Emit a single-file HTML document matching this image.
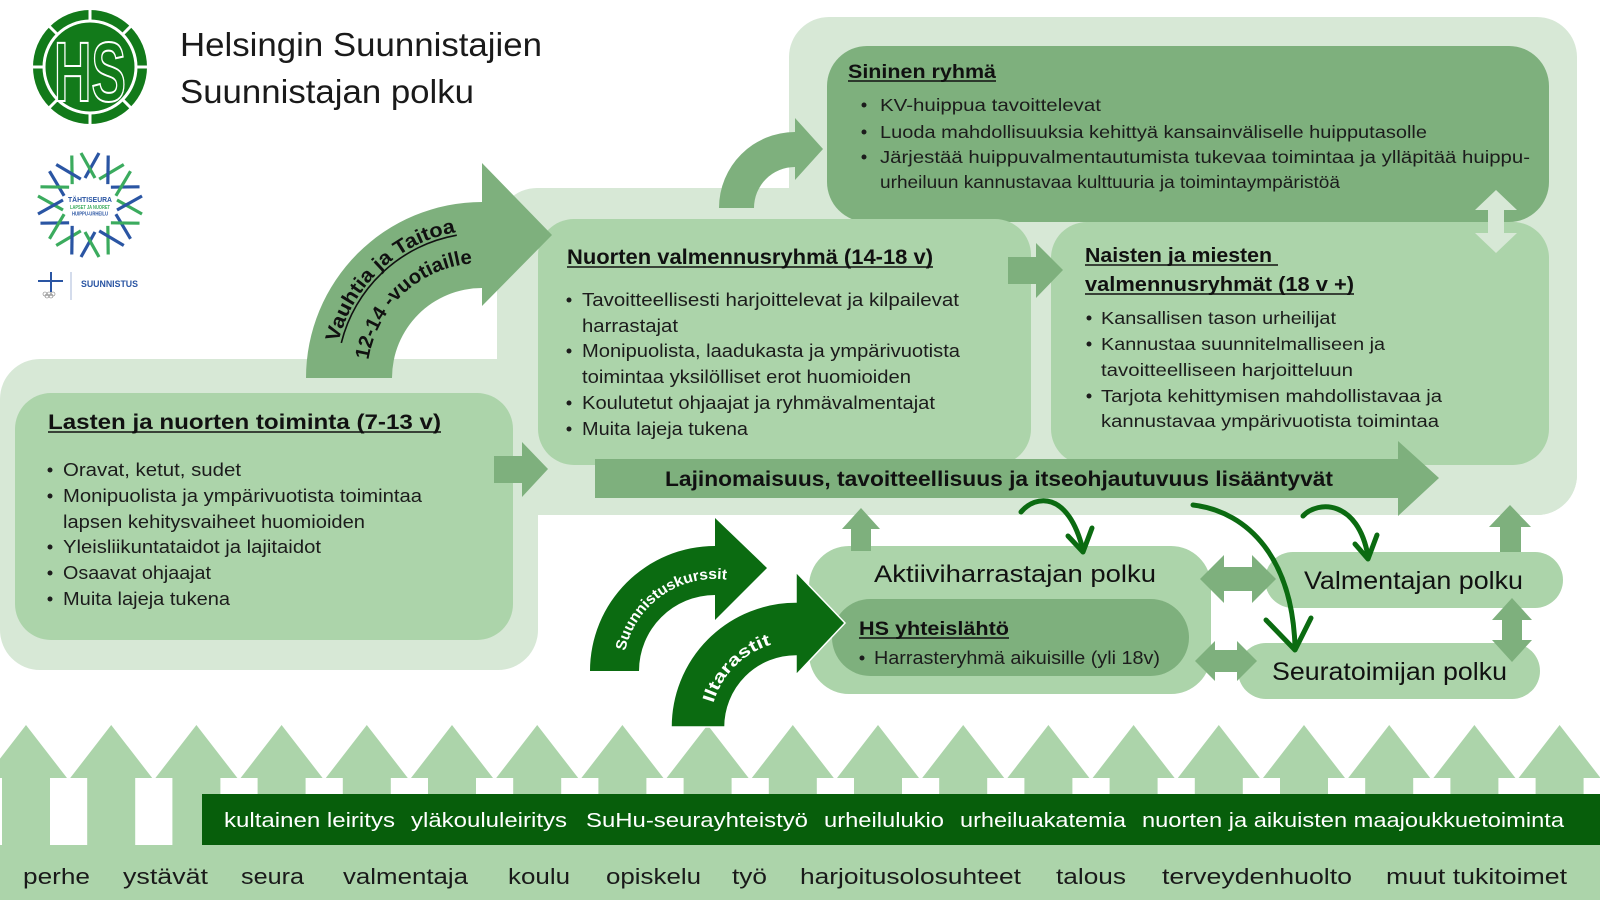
<!DOCTYPE html>
<html><head><meta charset="utf-8"><style>
html,body{margin:0;padding:0;background:#fff;}
svg{display:block;}
text{font-family:"Liberation Sans",Arial,sans-serif;}
</style></head><body>
<svg xmlns="http://www.w3.org/2000/svg" width="1600" height="900" viewBox="0 0 1600 900">
<rect width="1600" height="900" fill="#fff"/>

<!-- HS logo -->
<circle cx="90" cy="67" r="57" fill="#127a1a"/>
<g stroke="#fff" stroke-width="3">
<circle cx="90" cy="67" r="46" fill="none"/>
<line x1="90" y1="21" x2="90" y2="9"/><line x1="90" y1="113" x2="90" y2="125"/>
<line x1="44" y1="67" x2="32" y2="67"/><line x1="136" y1="67" x2="148" y2="67"/>
<line x1="57.5" y1="34.5" x2="49" y2="26"/><line x1="122.5" y1="34.5" x2="131" y2="26"/>
<line x1="57.5" y1="99.5" x2="49" y2="108"/><line x1="122.5" y1="99.5" x2="131" y2="108"/>
</g>
<text x="54" y="101" font-size="84" font-weight="bold" textLength="72" lengthAdjust="spacingAndGlyphs" fill="#127a1a" stroke="#fff" stroke-width="2">HS</text>

<!-- Title -->
<text x="180" y="56" font-size="33" fill="#1a1a1a" textLength="362" lengthAdjust="spacingAndGlyphs">Helsingin Suunnistajien</text>
<text x="180" y="103" font-size="33" fill="#1a1a1a" textLength="294" lengthAdjust="spacingAndGlyphs">Suunnistajan polku</text>

<!-- Tähtiseura logo -->
<g stroke-width="3.2">
<g transform="rotate(0 90 205)"><line x1="85" y1="178" x2="99" y2="153" stroke="#2a55a3"/><line x1="95" y1="178" x2="81" y2="153" stroke="#3bab5e"/></g>
<g transform="rotate(30 90 205)"><line x1="85" y1="178" x2="99" y2="153" stroke="#3bab5e"/><line x1="95" y1="178" x2="81" y2="153" stroke="#2a55a3"/></g>
<g transform="rotate(60 90 205)"><line x1="85" y1="178" x2="99" y2="153" stroke="#2a55a3"/><line x1="95" y1="178" x2="81" y2="153" stroke="#3bab5e"/></g>
<g transform="rotate(90 90 205)"><line x1="85" y1="178" x2="99" y2="153" stroke="#3bab5e"/><line x1="95" y1="178" x2="81" y2="153" stroke="#2a55a3"/></g>
<g transform="rotate(120 90 205)"><line x1="85" y1="178" x2="99" y2="153" stroke="#2a55a3"/><line x1="95" y1="178" x2="81" y2="153" stroke="#3bab5e"/></g>
<g transform="rotate(150 90 205)"><line x1="85" y1="178" x2="99" y2="153" stroke="#3bab5e"/><line x1="95" y1="178" x2="81" y2="153" stroke="#2a55a3"/></g>
<g transform="rotate(180 90 205)"><line x1="85" y1="178" x2="99" y2="153" stroke="#2a55a3"/><line x1="95" y1="178" x2="81" y2="153" stroke="#3bab5e"/></g>
<g transform="rotate(210 90 205)"><line x1="85" y1="178" x2="99" y2="153" stroke="#3bab5e"/><line x1="95" y1="178" x2="81" y2="153" stroke="#2a55a3"/></g>
<g transform="rotate(240 90 205)"><line x1="85" y1="178" x2="99" y2="153" stroke="#2a55a3"/><line x1="95" y1="178" x2="81" y2="153" stroke="#3bab5e"/></g>
<g transform="rotate(270 90 205)"><line x1="85" y1="178" x2="99" y2="153" stroke="#3bab5e"/><line x1="95" y1="178" x2="81" y2="153" stroke="#2a55a3"/></g>
<g transform="rotate(300 90 205)"><line x1="85" y1="178" x2="99" y2="153" stroke="#2a55a3"/><line x1="95" y1="178" x2="81" y2="153" stroke="#3bab5e"/></g>
<g transform="rotate(330 90 205)"><line x1="85" y1="178" x2="99" y2="153" stroke="#3bab5e"/><line x1="95" y1="178" x2="81" y2="153" stroke="#2a55a3"/></g>
</g>
<text x="90" y="202" font-size="7" font-weight="bold" fill="#2a55a3" text-anchor="middle" textLength="44" lengthAdjust="spacingAndGlyphs">TÄHTISEURA</text>
<text x="90" y="209" font-size="5" font-weight="bold" fill="#3bab5e" text-anchor="middle" textLength="40" lengthAdjust="spacingAndGlyphs">LAPSET JA NUORET</text>
<text x="90" y="215.5" font-size="5" font-weight="bold" fill="#2a55a3" text-anchor="middle" textLength="36" lengthAdjust="spacingAndGlyphs">HUIPPU-URHEILU</text>

<!-- Suunnistus logo -->
<line x1="51" y1="272" x2="51" y2="292" stroke="#2a55a3" stroke-width="2"/>
<line x1="38" y1="281" x2="63" y2="281" stroke="#2a55a3" stroke-width="2"/>
<g fill="none" stroke="#777" stroke-width="0.6">
<circle cx="45" cy="294" r="2"/><circle cx="49" cy="294" r="2"/><circle cx="53" cy="294" r="2"/>
<circle cx="47" cy="296" r="2"/><circle cx="51" cy="296" r="2"/>
</g>
<line x1="71" y1="272" x2="71" y2="300" stroke="#a9b9d8" stroke-width="1"/>
<text x="81" y="287" font-size="9" font-weight="bold" fill="#2a55a3" textLength="57" lengthAdjust="spacingAndGlyphs">SUUNNISTUS</text>

<!-- light regions -->
<rect x="789" y="17" width="788" height="498" rx="40" fill="#d7e8d6"/>
<rect x="497" y="188" width="1080" height="327" rx="40" fill="#d7e8d6"/>
<rect x="0" y="359" width="538" height="311" rx="40" fill="#d7e8d6"/>

<!-- main boxes -->
<rect x="827" y="46" width="722" height="176" rx="40" fill="#7eb07d"/>
<rect x="538" y="219" width="493" height="246" rx="36" fill="#acd4aa"/>
<rect x="1051" y="222" width="498" height="243" rx="36" fill="#acd4aa"/>
<rect x="15" y="393" width="498" height="247" rx="36" fill="#acd4aa"/>

<!-- light double arrow Sininen/Naisten -->
<polygon points="1496,190 1517,210 1504,210 1504,233 1517,233 1496,253 1475,233 1488,233 1488,210 1475,210" fill="#d7e8d6"/>

<!-- curved arrows medium -->
<path d="M306,378 A176,176 0 0 1 482,202 L482,163 L552,235 L482,306 L482,288 A90,90 0 0 0 392,378 Z" fill="#7eb07d"/>
<path d="M719,208 A76,76 0 0 1 795,132 L795,118 L823,149 L795,180 L795,167 A41,41 0 0 0 754,208 Z" fill="#7eb07d"/>

<!-- Vauhtia text -->
<path id="vp1" d="M334,378 A148,148 0 0 1 520.3,235" fill="none"/>
<path id="vp2" d="M367,378 A115,115 0 0 1 511.8,266.9" fill="none"/>
<text font-size="20" font-weight="bold" fill="#111"><textPath href="#vp1" startOffset="36" textLength="170" lengthAdjust="spacingAndGlyphs">Vauhtia ja Taitoa</textPath></text>
<text font-size="20" font-weight="bold" fill="#111"><textPath href="#vp2" startOffset="18" textLength="153" lengthAdjust="spacingAndGlyphs">12-14 -vuotiaille</textPath></text>
<path d="M341.3,342.9 A145,145 0 0 1 456.8,235.2" fill="none" stroke="#111" stroke-width="1.6"/>

<!-- small straight arrows -->
<polygon points="494,456 522,456 522,442 548,469 522,497 522,483 494,483" fill="#7eb07d"/>
<polygon points="1008,257 1036,257 1036,243 1063,270 1036,298 1036,284 1008,284" fill="#7eb07d"/>

<!-- big bar -->
<polygon points="595,459 1398,459 1398,441 1439,478 1398,516 1398,498 595,498" fill="#7eb07d"/>
<text x="665" y="486" font-size="21" font-weight="bold" fill="#111" textLength="668" lengthAdjust="spacingAndGlyphs">Lajinomaisuus, tavoitteellisuus ja itseohjautuvuus lisääntyvät</text>

<!-- Sininen text -->
<text x="848" y="78" font-size="19" font-weight="bold" fill="#111" textLength="148" lengthAdjust="spacingAndGlyphs">Sininen ryhmä</text>
<line x1="848" y1="81" x2="996" y2="81" stroke="#111" stroke-width="1.6"/>
<g fill="#1c1c1c" font-size="17.5">
<circle cx="864" cy="105" r="2.5"/><circle cx="864" cy="132" r="2.5"/><circle cx="864" cy="157" r="2.5"/>
<text x="880" y="111" textLength="221" lengthAdjust="spacingAndGlyphs">KV-huippua tavoittelevat</text>
<text x="880" y="138" textLength="547" lengthAdjust="spacingAndGlyphs">Luoda mahdollisuuksia kehittyä kansainväliselle huipputasolle</text>
<text x="880" y="163" textLength="650" lengthAdjust="spacingAndGlyphs">Järjestää huippuvalmentautumista tukevaa toimintaa ja ylläpitää huippu-</text>
<text x="880" y="188" textLength="460" lengthAdjust="spacingAndGlyphs">urheiluun kannustavaa kulttuuria ja toimintaympäristöä</text>
</g>

<!-- Nuorten text -->
<text x="567" y="264" font-size="21" font-weight="bold" fill="#111" textLength="366" lengthAdjust="spacingAndGlyphs">Nuorten valmennusryhmä (14-18 v)</text>
<line x1="567" y1="267" x2="933" y2="267" stroke="#111" stroke-width="1.6"/>
<g fill="#1c1c1c" font-size="18">
<circle cx="569" cy="300" r="2.5"/><circle cx="569" cy="351" r="2.5"/><circle cx="569" cy="403" r="2.5"/><circle cx="569" cy="429" r="2.5"/>
<text x="582" y="306" textLength="377" lengthAdjust="spacingAndGlyphs">Tavoitteellisesti harjoittelevat ja kilpailevat</text>
<text x="582" y="332" textLength="96" lengthAdjust="spacingAndGlyphs">harrastajat</text>
<text x="582" y="357" textLength="378" lengthAdjust="spacingAndGlyphs">Monipuolista, laadukasta ja ympärivuotista</text>
<text x="582" y="383" textLength="329" lengthAdjust="spacingAndGlyphs">toimintaa yksilölliset erot huomioiden</text>
<text x="582" y="409" textLength="353" lengthAdjust="spacingAndGlyphs">Koulutetut ohjaajat ja ryhmävalmentajat</text>
<text x="582" y="435" textLength="166" lengthAdjust="spacingAndGlyphs">Muita lajeja tukena</text>
</g>

<!-- Naisten text -->
<text x="1085" y="262" font-size="20" font-weight="bold" fill="#111" textLength="187" lengthAdjust="spacingAndGlyphs">Naisten ja miesten</text>
<line x1="1085" y1="265" x2="1278" y2="265" stroke="#111" stroke-width="1.6"/>
<text x="1085" y="291" font-size="20" font-weight="bold" fill="#111" textLength="269" lengthAdjust="spacingAndGlyphs">valmennusryhmät (18 v +)</text>
<line x1="1085" y1="294" x2="1354" y2="294" stroke="#111" stroke-width="1.6"/>
<g fill="#1c1c1c" font-size="17.5">
<circle cx="1089" cy="318" r="2.5"/><circle cx="1089" cy="344" r="2.5"/><circle cx="1089" cy="396" r="2.5"/>
<text x="1101" y="324" textLength="235" lengthAdjust="spacingAndGlyphs">Kansallisen tason urheilijat</text>
<text x="1101" y="350" textLength="284" lengthAdjust="spacingAndGlyphs">Kannustaa suunnitelmalliseen ja</text>
<text x="1101" y="376" textLength="252" lengthAdjust="spacingAndGlyphs">tavoitteelliseen harjoitteluun</text>
<text x="1101" y="402" textLength="341" lengthAdjust="spacingAndGlyphs">Tarjota kehittymisen mahdollistavaa ja</text>
<text x="1101" y="427" textLength="338" lengthAdjust="spacingAndGlyphs">kannustavaa ympärivuotista toimintaa</text>
</g>

<!-- Lasten text -->
<text x="48" y="429" font-size="21" font-weight="bold" fill="#111" textLength="393" lengthAdjust="spacingAndGlyphs">Lasten ja nuorten toiminta (7-13 v)</text>
<line x1="48" y1="432" x2="441" y2="432" stroke="#111" stroke-width="1.6"/>
<g fill="#1c1c1c" font-size="18">
<circle cx="50" cy="470" r="2.5"/><circle cx="50" cy="496" r="2.5"/><circle cx="50" cy="547" r="2.5"/><circle cx="50" cy="573" r="2.5"/><circle cx="50" cy="599" r="2.5"/>
<text x="63" y="476" textLength="178" lengthAdjust="spacingAndGlyphs">Oravat, ketut, sudet</text>
<text x="63" y="502" textLength="359" lengthAdjust="spacingAndGlyphs">Monipuolista ja ympärivuotista toimintaa</text>
<text x="63" y="528" textLength="302" lengthAdjust="spacingAndGlyphs">lapsen kehitysvaiheet huomioiden</text>
<text x="63" y="553" textLength="258" lengthAdjust="spacingAndGlyphs">Yleisliikuntataidot ja lajitaidot</text>
<text x="63" y="579" textLength="148" lengthAdjust="spacingAndGlyphs">Osaavat ohjaajat</text>
<text x="63" y="605" textLength="167" lengthAdjust="spacingAndGlyphs">Muita lajeja tukena</text>
</g>

<!-- bottom row arrows -->
<g fill="#acd4aa">
<polygon transform="translate(26,725)" points="-24,175 -24,53 -41,53 0,0 41,53 24,53 24,175"/>
<polygon transform="translate(111.2,725)" points="-24,175 -24,53 -41,53 0,0 41,53 24,53 24,175"/>
<polygon transform="translate(196.4,725)" points="-24,175 -24,53 -41,53 0,0 41,53 24,53 24,175"/>
<polygon transform="translate(281.6,725)" points="-24,175 -24,53 -41,53 0,0 41,53 24,53 24,175"/>
<polygon transform="translate(366.8,725)" points="-24,175 -24,53 -41,53 0,0 41,53 24,53 24,175"/>
<polygon transform="translate(452,725)" points="-24,175 -24,53 -41,53 0,0 41,53 24,53 24,175"/>
<polygon transform="translate(537.2,725)" points="-24,175 -24,53 -41,53 0,0 41,53 24,53 24,175"/>
<polygon transform="translate(622.4,725)" points="-24,175 -24,53 -41,53 0,0 41,53 24,53 24,175"/>
<polygon transform="translate(707.6,725)" points="-24,175 -24,53 -41,53 0,0 41,53 24,53 24,175"/>
<polygon transform="translate(792.8,725)" points="-24,175 -24,53 -41,53 0,0 41,53 24,53 24,175"/>
<polygon transform="translate(878,725)" points="-24,175 -24,53 -41,53 0,0 41,53 24,53 24,175"/>
<polygon transform="translate(963.2,725)" points="-24,175 -24,53 -41,53 0,0 41,53 24,53 24,175"/>
<polygon transform="translate(1048.4,725)" points="-24,175 -24,53 -41,53 0,0 41,53 24,53 24,175"/>
<polygon transform="translate(1133.6,725)" points="-24,175 -24,53 -41,53 0,0 41,53 24,53 24,175"/>
<polygon transform="translate(1218.8,725)" points="-24,175 -24,53 -41,53 0,0 41,53 24,53 24,175"/>
<polygon transform="translate(1304,725)" points="-24,175 -24,53 -41,53 0,0 41,53 24,53 24,175"/>
<polygon transform="translate(1389.2,725)" points="-24,175 -24,53 -41,53 0,0 41,53 24,53 24,175"/>
<polygon transform="translate(1474.4,725)" points="-24,175 -24,53 -41,53 0,0 41,53 24,53 24,175"/>
<polygon transform="translate(1559.6,725)" points="-24,175 -24,53 -41,53 0,0 41,53 24,53 24,175"/>
<rect x="0" y="845" width="1600" height="55"/>
</g>
<rect x="202" y="794" width="1398" height="51" fill="#075e0b"/>
<g fill="#fff" font-size="20">
<text x="224" y="827" textLength="171" lengthAdjust="spacingAndGlyphs">kultainen leiritys</text>
<text x="411" y="827" textLength="156" lengthAdjust="spacingAndGlyphs">yläkoululeiritys</text>
<text x="586" y="827" textLength="222" lengthAdjust="spacingAndGlyphs">SuHu-seurayhteistyö</text>
<text x="824" y="827" textLength="120" lengthAdjust="spacingAndGlyphs">urheilulukio</text>
<text x="960" y="827" textLength="166" lengthAdjust="spacingAndGlyphs">urheiluakatemia</text>
<text x="1142" y="827" textLength="422" lengthAdjust="spacingAndGlyphs">nuorten ja aikuisten maajoukkuetoiminta</text>
</g>
<g fill="#1a1a1a" font-size="22">
<text x="23" y="884" textLength="67" lengthAdjust="spacingAndGlyphs">perhe</text>
<text x="123" y="884" textLength="85" lengthAdjust="spacingAndGlyphs">ystävät</text>
<text x="241" y="884" textLength="63" lengthAdjust="spacingAndGlyphs">seura</text>
<text x="343" y="884" textLength="125" lengthAdjust="spacingAndGlyphs">valmentaja</text>
<text x="508" y="884" textLength="62" lengthAdjust="spacingAndGlyphs">koulu</text>
<text x="606" y="884" textLength="95" lengthAdjust="spacingAndGlyphs">opiskelu</text>
<text x="732" y="884" textLength="35" lengthAdjust="spacingAndGlyphs">työ</text>
<text x="800" y="884" textLength="221" lengthAdjust="spacingAndGlyphs">harjoitusolosuhteet</text>
<text x="1056" y="884" textLength="70" lengthAdjust="spacingAndGlyphs">talous</text>
<text x="1162" y="884" textLength="190" lengthAdjust="spacingAndGlyphs">terveydenhuolto</text>
<text x="1386" y="884" textLength="181" lengthAdjust="spacingAndGlyphs">muut tukitoimet</text>
</g>

<!-- lower path boxes -->
<rect x="809" y="546" width="402" height="148" rx="40" fill="#acd4aa"/>
<rect x="832" y="599" width="357" height="77" rx="38.5" fill="#7eb07d"/>
<rect x="1265" y="552" width="298" height="56" rx="28" fill="#acd4aa"/>
<rect x="1238" y="643" width="302" height="56" rx="28" fill="#acd4aa"/>

<text x="874" y="582" font-size="24" fill="#111" textLength="282" lengthAdjust="spacingAndGlyphs">Aktiiviharrastajan polku</text>
<text x="859" y="635" font-size="19" font-weight="bold" fill="#111" textLength="150" lengthAdjust="spacingAndGlyphs">HS yhteislähtö</text>
<line x1="859" y1="638" x2="1009" y2="638" stroke="#111" stroke-width="1.6"/>
<circle cx="862" cy="658" r="2.5" fill="#1c1c1c"/>
<text x="874" y="664" font-size="18" fill="#1c1c1c" textLength="286" lengthAdjust="spacingAndGlyphs">Harrasteryhmä aikuisille (yli 18v)</text>
<text x="1304" y="589" font-size="25" fill="#111" textLength="219" lengthAdjust="spacingAndGlyphs">Valmentajan polku</text>
<text x="1272" y="680" font-size="25" fill="#111" textLength="235" lengthAdjust="spacingAndGlyphs">Seuratoimijan polku</text>

<!-- connectors medium -->
<g fill="#7eb07d">
<polygon points="861,508 880,529 871,529 871,551 851,551 851,529 842,529"/>
<polygon points="1510,505 1531,527 1521,527 1521,552 1500,552 1500,527 1489,527"/>
<polygon points="1200,579 1224,555 1224,567 1252,567 1252,555 1276,579 1252,603 1252,591 1224,591 1224,603"/>
<polygon points="1195,661 1215,641 1215,650 1237,650 1237,641 1257,661 1237,681 1237,672 1215,672 1215,681"/>
<polygon points="1512,598 1532,620 1522,620 1522,640 1532,640 1512,662 1492,640 1502,640 1502,620 1492,620"/>
</g>

<!-- dark green curved arrows -->
<path d="M590,671 A125,125 0 0 1 715,546 L715,518 L767,568 L715,620 L715,595 A76,76 0 0 0 639,671 Z" fill="#0b6b11"/>
<path d="M671,727 A125,125 0 0 1 796,602 L796,572 L845,623 L796,675 L796,656 A71,71 0 0 0 725,727 Z" fill="#0b6b11" stroke="#fff" stroke-width="1.5"/>
<path id="sp1" d="M623,671 A92,92 0 0 1 746.5,584.5" fill="none"/>
<path id="ip1" d="M710,727 A86,86 0 0 1 810.9,642.3" fill="none"/>
<text font-size="15" font-weight="bold" fill="#fff"><textPath href="#sp1" startOffset="20" textLength="136" lengthAdjust="spacingAndGlyphs">Suunnistuskurssit</textPath></text>
<text font-size="17" font-weight="bold" fill="#fff"><textPath href="#ip1" startOffset="24" textLength="86" lengthAdjust="spacingAndGlyphs">Iltarastit</textPath></text>

<!-- thin dark arrows -->
<g fill="none" stroke="#0b6b11" stroke-width="5" stroke-linecap="round" stroke-linejoin="round">
<path d="M1021,512 C1035,495 1068,490 1083,550"/>
<polyline points="1068,536 1083,552 1092,528"/>
<path d="M1193,505 C1250,512 1292,560 1295,646"/>
<polyline points="1266,620 1295,650 1311,618"/>
<path d="M1303,516 C1318,500 1358,500 1368,556"/>
<polyline points="1355,544 1368,559 1377,535"/>
</g>
</svg>
</body></html>
